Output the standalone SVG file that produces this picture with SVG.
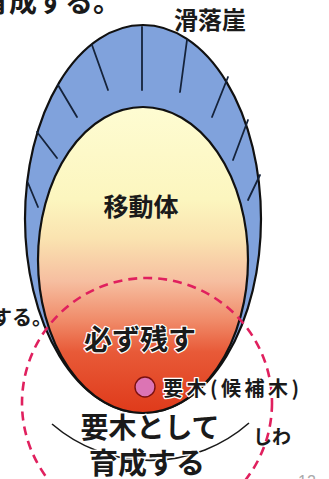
<svg xmlns="http://www.w3.org/2000/svg" width="329" height="479" viewBox="0 0 329 479">
  <style>
    .t { font-family: "Noto Sans CJK JP", "Noto Sans", sans-serif; font-weight: 700; fill: #1a1a1a; }
    .halo { stroke: #ffffff; stroke-width: 2.5; paint-order: stroke; stroke-linejoin: round; }
    .hatch { stroke: #15233a; stroke-width: 1.8; stroke-linecap: round; }
    .outline { stroke: #111; stroke-width: 2.2; }
  </style>
  <defs>
    <linearGradient id="body" x1="0" y1="107" x2="0" y2="413" gradientUnits="userSpaceOnUse">
      <stop offset="0" stop-color="#fefcd2"/>
      <stop offset="0.3" stop-color="#fcf6bf"/>
      <stop offset="0.43" stop-color="#fae3b0"/>
      <stop offset="0.57" stop-color="#f6bea0"/>
      <stop offset="0.7" stop-color="#f08a68"/>
      <stop offset="0.8" stop-color="#e85a38"/>
      <stop offset="1" stop-color="#df3a1a"/>
    </linearGradient>
  </defs>
  <rect width="329" height="479" fill="#ffffff"/>

  <g id="scarp">
    <ellipse cx="143" cy="219" rx="118" ry="194" fill="#80a2dc" class="outline"/>
    <line class="hatch" x1="142" y1="27" x2="142" y2="90"/>
    <line class="hatch" x1="92" y1="45" x2="108" y2="90"/>
    <line class="hatch" x1="58" y1="85" x2="77" y2="117"/>
    <line class="hatch" x1="37" y1="132" x2="57" y2="158"/>
    <line class="hatch" x1="28" y1="183" x2="38" y2="207"/>
    <line class="hatch" x1="187" y1="40" x2="180" y2="92"/>
    <line class="hatch" x1="228" y1="77" x2="212" y2="117"/>
    <line class="hatch" x1="248" y1="120" x2="233" y2="160"/>
    <line class="hatch" x1="260" y1="175" x2="248" y2="200"/>
  </g>

  <g id="moving-body">
    <ellipse cx="143" cy="260" rx="105" ry="153" fill="url(#body)" class="outline"/>
  </g>

  <g id="connectors">
    <circle cx="147" cy="403" r="125" fill="none" stroke="#e0205e" stroke-width="2.6" stroke-dasharray="9,6"/>
    <path d="M52,424 A150,150 0 0,0 249,423" fill="none" stroke="#1a1a1a" stroke-width="1.6"/>
  </g>

  <g id="key-tree">
    <circle cx="145" cy="387" r="10" fill="#dc74b4" stroke="#7a1010" stroke-width="1.4"/>
  </g>

  <g id="labels">
    <text class="t" x="-19" y="12" font-size="28">育成する。</text>
    <text class="t" x="210" y="29" font-size="24" text-anchor="middle">滑落崖</text>
    <text class="t" x="141" y="216" font-size="25" text-anchor="middle">移動体</text>
    <text class="t" x="-8" y="325" font-size="20">する。</text>
    <text class="t halo" x="140" y="350" font-size="28" text-anchor="middle">必ず残す</text>
    <text class="t halo" x="163" y="396" font-size="20" textLength="136" lengthAdjust="spacing">要木(候補木)</text>
    <text class="t halo" x="150" y="438" font-size="28" text-anchor="middle">要木として</text>
    <text class="t halo" x="147" y="474" font-size="29" text-anchor="middle">育成する</text>
    <text class="t" x="253" y="444" font-size="19" font-weight="400">しわ</text>
    <text x="298" y="487" font-size="16" fill="#aaaaaa" font-family="Liberation Sans, sans-serif">12</text>
  </g>
</svg>
